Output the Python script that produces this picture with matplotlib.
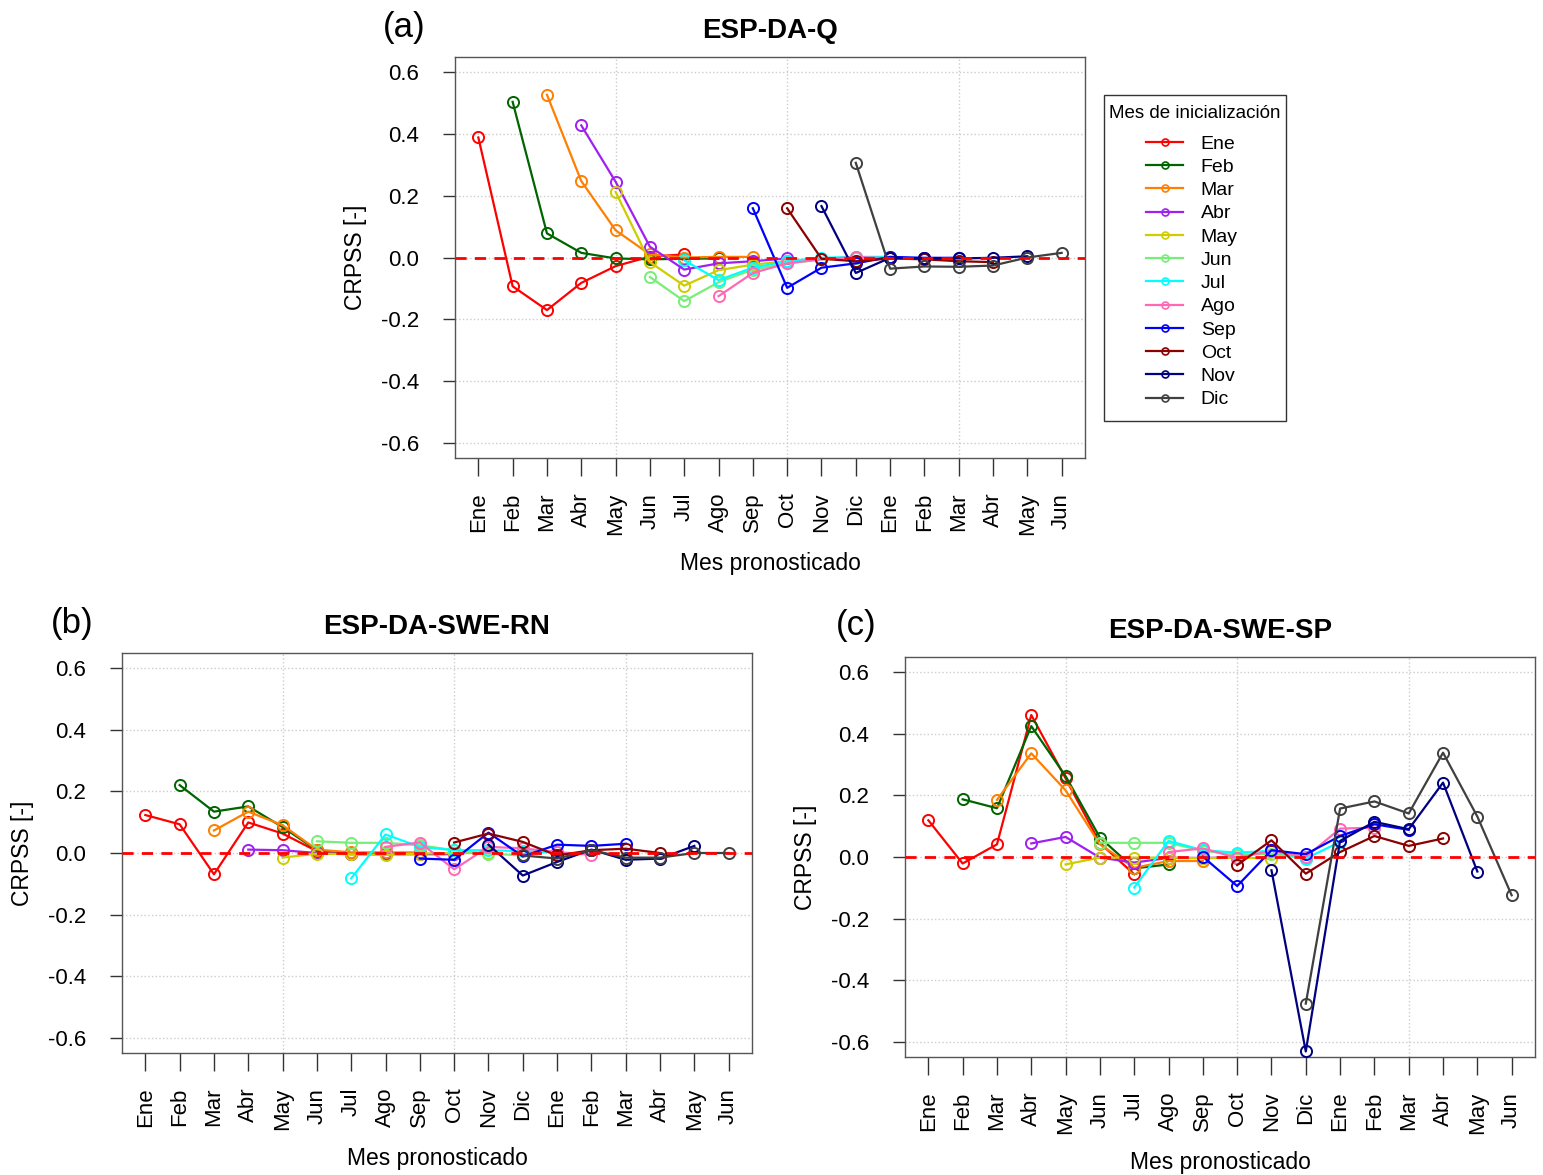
import matplotlib.pyplot as plt
from matplotlib.lines import Line2D
from matplotlib.patches import Rectangle

plt.rcParams['font.family'] = ['Liberation Sans', 'DejaVu Sans']

# forecast months on the x axis (18 months, Ene..Dic then Ene..Jun)
meses_x = ['Ene', 'Feb', 'Mar', 'Abr', 'May', 'Jun', 'Jul', 'Ago', 'Sep', 'Oct',
           'Nov', 'Dic', 'Ene', 'Feb', 'Mar', 'Abr', 'May', 'Jun']
# initialisation months (legend)
meses_ini = ['Ene', 'Feb', 'Mar', 'Abr', 'May', 'Jun', 'Jul', 'Ago', 'Sep', 'Oct', 'Nov', 'Dic']
colores = ['red', 'darkgreen', '#FF7F00', '#A020F0', '#CDCD00', '#77EE77',
           'cyan', '#FF69B4', 'blue', 'darkred', 'navy', '#404040']

# CRPSS for lead 0..6, one row per initialisation month
esp_q = [
    [0.388, -0.093, -0.170, -0.082, -0.028, 0.003, 0.010],
    [0.503, 0.078, 0.015, -0.003, -0.006, -0.004, -0.003],
    [0.526, 0.247, 0.088, 0.010, 0.000, 0.002, 0.002],
    [0.427, 0.245, 0.035, -0.039, -0.019, -0.012, -0.003],
    [0.212, -0.015, -0.091, -0.041, -0.023, -0.012, -0.004],
    [-0.063, -0.141, -0.080, -0.039, -0.019, -0.006, -0.003],
    [-0.009, -0.073, -0.033, -0.012, -0.001, 0.002, 0.002],
    [-0.125, -0.050, -0.019, -0.006, 0.002, -0.003, -0.003],
    [0.159, -0.098, -0.033, -0.019, 0.002, -0.001, -0.001],
    [0.159, -0.004, -0.012, -0.003, -0.006, -0.012, -0.015],
    [0.166, -0.050, -0.001, -0.003, -0.003, -0.001, 0.004],
    [0.306, -0.036, -0.029, -0.030, -0.026, 0.000, 0.015],
]

esp_swe_rn = [
    [0.123, 0.093, -0.069, 0.099, 0.063, 0.006, -0.003],
    [0.220, 0.134, 0.151, 0.084, 0.009, 0.000, 0.000],
    [0.073, 0.134, 0.090, 0.011, 0.002, 0.002, 0.002],
    [0.011, 0.009, 0.000, -0.004, -0.004, -0.004, -0.004],
    [-0.015, -0.002, -0.004, -0.006, -0.002, 0.000, 0.000],
    [0.038, 0.033, 0.033, 0.025, 0.009, -0.002, -0.008],
    [-0.082, 0.060, 0.020, 0.009, 0.009, 0.006, 0.002],
    [0.020, 0.034, -0.053, 0.020, 0.015, 0.003, -0.006],
    [-0.018, -0.022, 0.066, -0.011, 0.027, 0.023, 0.030],
    [0.034, 0.063, 0.036, -0.008, 0.009, 0.014, 0.000],
    [0.027, -0.073, -0.029, 0.011, -0.022, -0.018, 0.023],
    [-0.008, -0.018, 0.009, -0.015, -0.015, 0.000, 0.000],
]

esp_swe_sp = [
    [0.119, -0.021, 0.041, 0.460, 0.255, 0.045, -0.056],
    [0.187, 0.158, 0.424, 0.262, 0.063, -0.037, -0.024],
    [0.185, 0.336, 0.216, 0.041, -0.035, -0.013, -0.013],
    [0.044, 0.065, -0.002, -0.018, -0.003, -0.003, -0.002],
    [-0.024, -0.002, -0.002, -0.002, -0.004, -0.002, -0.005],
    [0.046, 0.046, 0.046, 0.020, 0.008, 0.010, -0.003],
    [-0.099, 0.052, 0.022, 0.014, 0.020, -0.005, 0.049],
    [0.016, 0.028, -0.003, 0.020, 0.000, 0.092, 0.095],
    [0.001, -0.094, 0.022, 0.009, 0.068, 0.106, 0.088],
    [-0.026, 0.054, -0.054, 0.016, 0.068, 0.036, 0.060],
    [-0.043, -0.630, 0.052, 0.114, 0.090, 0.241, -0.047],
    [-0.475, 0.157, 0.180, 0.141, 0.338, 0.131, -0.124],
]

yticks = [-0.6, -0.4, -0.2, 0.0, 0.2, 0.4, 0.6]

W, H = 1543, 1175
fig = plt.figure(figsize=(W / 100, H / 100), dpi=100)


def panel(box, data, title, letter, letter_xy):
    l, t, r, b = box
    ax = fig.add_axes([l / W, 1 - b / H, (r - l) / W, (b - t) / H])
    for i, (serie, c) in enumerate(zip(data, colores)):
        x = list(range(i + 1, i + 1 + len(serie)))
        ax.plot(x, serie, color=c, lw=1.6, marker='o', ms=8, mfc='none',
                mec=c, mew=1.4, zorder=3)
    ax.axhline(0, color='red', ls=(0, (4, 3)), lw=2, zorder=4)
    ax.set_xlim(0.32, 18.68)
    ax.set_ylim(-0.648, 0.648)
    ax.set_xticks(range(1, 19))
    ax.set_xticklabels(meses_x, rotation=90, fontsize=16)
    ax.set_yticks(yticks)
    ax.set_yticklabels(['%.1f' % v for v in yticks], fontsize=16)
    ax.tick_params(axis='x', length=13, width=1, color='#333333', pad=12)
    ax.tick_params(axis='y', length=9, width=1, color='#333333', pad=17)
    for x in (5, 10, 15):
        ax.axvline(x, color='#cccccc', ls=':', lw=1, zorder=1)
    for y in yticks:
        ax.axhline(y, color='#cccccc', ls=':', lw=1, zorder=1)
    for s in ax.spines.values():
        s.set_color('#555555')
        s.set_linewidth(1)
    ax.set_xlabel('Mes pronosticado', fontsize=16.5, labelpad=12)
    ax.set_ylabel('CRPSS [-]', fontsize=16.5, labelpad=10)
    ax.set_title(title, fontsize=20, fontweight='bold', pad=14)
    fig.text(letter_xy[0] / W, 1 - letter_xy[1] / H, letter, fontsize=25,
             ha='center', va='center')
    return ax


ax_a = panel((455, 57, 1085, 458), esp_q, 'ESP-DA-Q', '(a)', (404, 27))
ax_b = panel((122, 653, 752, 1053), esp_swe_rn, 'ESP-DA-SWE-RN', '(b)', (72, 624))
ax_c = panel((905, 657, 1535, 1057), esp_swe_sp, 'ESP-DA-SWE-SP', '(c)', (856, 626))

# legend: frame and title drawn separately, entries centred below the title
fig.add_artist(Rectangle((1104 / W, 1 - 421 / H), 182 / W, 326 / H,
                         transform=fig.transFigure, fill=False,
                         edgecolor='#333333', lw=1))
fig.text(1195 / W, 1 - 113 / H, 'Mes de inicialización', fontsize=13.5,
         ha='center', va='center')
handles = [Line2D([0], [0], color=c, lw=1.6, marker='o', ms=5, mfc='none', mec=c, mew=1.2)
           for c in colores]
leg = fig.legend(handles, meses_ini, loc='upper center',
                 bbox_to_anchor=(1192 / W, 1 - 135 / H), bbox_transform=fig.transFigure,
                 fontsize=14, frameon=False,
                 handlelength=1.9, handletextpad=0.9, labelspacing=0.29,
                 borderpad=0, borderaxespad=0)

fig.savefig('out.png', dpi=100, facecolor='white')
